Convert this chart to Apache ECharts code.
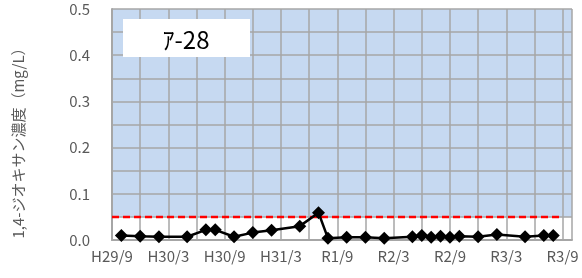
<!DOCTYPE html>
<html>

<head>
    <meta charset="utf-8">
    <title>ECharts</title>
    <script type="text/javascript" src="https://cdn.jsdelivr.net/npm/echarts@6/dist/echarts.min.js"></script>
</head>

<body style="margin:0">
    <div id="main" style="width: 582px;height:278px;"></div>
    <script type="text/javascript">
        // 軸ラベル（6か月ごと）
        var xLabels = ['H29/9', 'H30/3', 'H30/9', 'H31/3', 'R1/9', 'R2/3', 'R2/9', 'R3/3', 'R3/9'];
        // 採水年月
        var sampleDates = ['2017/10', '2017/12', '2018/02', '2018/05', '2018/07', '2018/08', '2018/10', '2018/12',
            '2019/02', '2019/05', '2019/07', '2019/08', '2019/10', '2019/12', '2020/02', '2020/05', '2020/06',
            '2020/07', '2020/08', '2020/09', '2020/10', '2020/12', '2021/02', '2021/05', '2021/07', '2021/08'];
        // 1,4-ジオキサン濃度 (mg/L)
        var dioxane = [0.010, 0.008, 0.007, 0.007, 0.022, 0.022, 0.007, 0.016,
            0.021, 0.030, 0.059, 0.004, 0.006, 0.006, 0.004, 0.007, 0.010,
            0.006, 0.008, 0.006, 0.008, 0.007, 0.012, 0.007, 0.010, 0.010];
        // 環境基準
        var standard = 0.05;
        var standardRange = ['2017/09', '2021/09'];
        var yTicks = ['0.0', '0.1', '0.2', '0.3', '0.4', '0.5'];

        // H29/9 からの月数
        function monthIndex(s) {
            var p = s.split('/');
            return (Number(p[0]) - 2017) * 12 + (Number(p[1]) - 9);
        }

        var blue = '#c6d9f1';
        var gridGray = '#a6a6a6';
        var textGray = '#595959';
        var font = '"Noto Sans CJK JP", "Noto Sans", sans-serif';

        var myChart = echarts.init(document.getElementById('main'));
        var option = {
            animation: false,
            grid: { left: 112, right: 10, top: 9, bottom: 38 },
            xAxis: {
                type: 'value',
                z: 1,
                min: 0,
                max: 49,
                interval: 3,
                axisLine: { show: true, lineStyle: { color: gridGray, width: 2 } },
                axisTick: { show: false },
                splitLine: { show: true, lineStyle: { color: gridGray, width: 1.5 } },
                axisLabel: {
                    color: textGray,
                    fontFamily: font,
                    fontSize: 15,
                    margin: 9,
                    showMaxLabel: false,
                    formatter: function (v) {
                        return v % 6 === 0 ? (xLabels[v / 6] || '') : '';
                    }
                }
            },
            yAxis: {
                type: 'value',
                z: 0,
                min: 0,
                max: 0.5,
                interval: 0.05,
                name: '1,4-ジオキサン濃度（mg/L）',
                nameLocation: 'middle',
                nameGap: 86,
                nameTextStyle: { color: textGray, fontFamily: font, fontSize: 15, padding: [0, 30, 0, 0] },
                axisLine: { show: true, lineStyle: { color: gridGray, width: 2 } },
                axisTick: { show: false },
                splitLine: { show: true, lineStyle: { color: gridGray, width: 1.5 } },
                splitArea: {
                    show: true,
                    areaStyle: { color: ['#ffffff', blue, blue, blue, blue, blue, blue, blue, blue, blue] }
                },
                axisLabel: {
                    color: textGray,
                    fontFamily: font,
                    fontSize: 15,
                    margin: 22,
                    formatter: function (v) {
                        var k = Math.round(v * 100);
                        return k % 10 === 0 ? yTicks[k / 10] : '';
                    }
                }
            },
            graphic: [{
                type: 'group',
                left: 123,
                top: 19,
                z: 100,
                children: [{
                    type: 'rect',
                    z: 100,
                    shape: { x: 0, y: 0, width: 127, height: 38 },
                    style: { fill: '#ffffff' }
                }, {
                    type: 'text',
                    z: 101,
                    x: 63,
                    y: 21,
                    style: {
                        text: 'ｱ-28',
                        fill: '#000',
                        font: '24px "Noto Sans CJK JP", sans-serif',
                        textAlign: 'center',
                        textVerticalAlign: 'middle'
                    }
                }]
            }],
            series: [{
                name: '基準',
                type: 'line',
                z: 3,
                symbol: 'none',
                lineStyle: { color: '#ff0000', width: 2.5, type: [7, 4] },
                data: standardRange.map(function (d) { return [monthIndex(d), standard]; })
            }, {
                name: '1,4-ジオキサン',
                type: 'line',
                z: 4,
                symbol: 'diamond',
                symbolSize: 13,
                itemStyle: { color: '#000' },
                lineStyle: { color: '#000', width: 2.5 },
                data: sampleDates.map(function (d, i) { return [monthIndex(d), dioxane[i]]; })
            }]
        };
        myChart.setOption(option);
    </script>
</body>

</html>
